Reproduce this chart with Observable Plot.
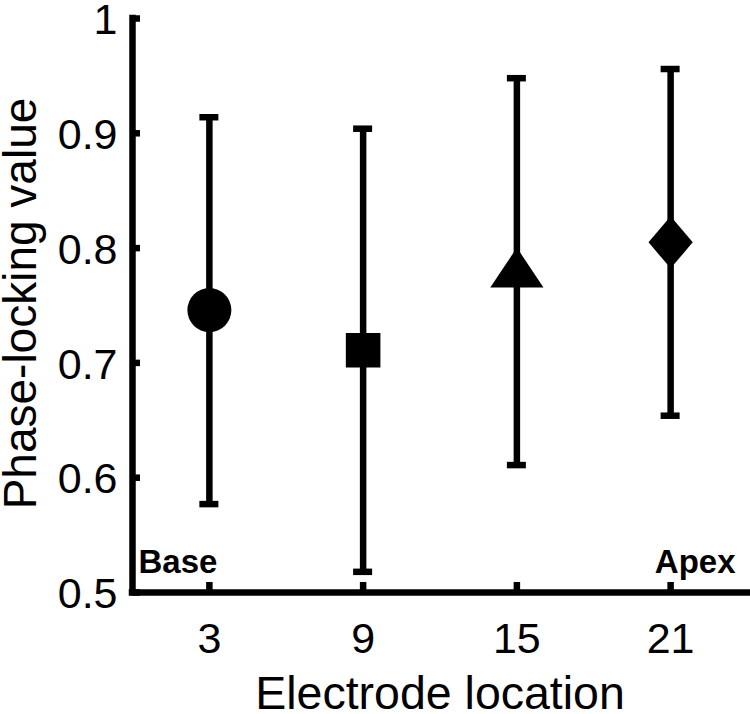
<!DOCTYPE html>
<html>
<head>
<meta charset="utf-8">
<script src="https://cdn.jsdelivr.net/npm/d3@7"></script>
<script src="https://cdn.jsdelivr.net/npm/@observablehq/plot@0.6"></script>
<style>
  html, body { margin: 0; padding: 0; background: #fff; }
  #chart { width: 750px; height: 714px; }
</style>
</head>
<body>
<div id="chart"></div>
<script>
// ---- data ----
const locations = [3, 9, 15, 21];
const meanPLV   = [0.746, 0.711, 0.783, 0.805];
const upperPLV  = [0.914, 0.904, 0.948, 0.956];
const lowerPLV  = [0.577, 0.518, 0.611, 0.654];
const markers   = ["circle", "square", "triangle", "diamond"];
const xTicks    = [3, 9, 15, 21];
const yTicks    = [0.5, 0.6, 0.7, 0.8, 0.9, 1];
const xTitle    = "Electrode location";
const yTitle    = "Phase-locking value";
const baseLabel = "Base";
const apexLabel = "Apex";

// ---- build rows ----
const rows = locations.map((x, i) => ({x, y: meanPLV[i], lo: lowerPLV[i], hi: upperPLV[i], marker: markers[i]}));

// ---- marker styles ----
const triangleSym = {draw(ctx, size) {
  const h = Math.sqrt(size / Math.PI), w = h * 1.33;
  ctx.moveTo(0, -h); ctx.lineTo(w, h); ctx.lineTo(-w, h); ctx.closePath();
}};
const diamondSym = {draw(ctx, size) {
  const h = Math.sqrt(size / Math.PI), w = h * 0.85;
  ctx.moveTo(0, -h); ctx.lineTo(w, 0); ctx.lineTo(0, h); ctx.lineTo(-w, 0); ctx.closePath();
}};
const markerStyle = {
  circle:   {symbol: d3.symbolCircle, r: 22},
  square:   {symbol: d3.symbolSquare, r: 19.5},
  triangle: {symbol: triangleSym, r: 20},
  diamond:  {symbol: diamondSym, r: 26}
};

const LW = 6.5;
const font = "'Liberation Sans', Arial, Helvetica, sans-serif";

const chart = Plot.plot({
  width: 750,
  height: 714,
  marginLeft: 132,
  marginRight: 3,
  marginTop: 18,
  marginBottom: 122,
  style: {fontFamily: font, background: "#fff", color: "#000", overflow: "visible"},
  x: {domain: [0, 24], axis: null},
  y: {domain: [0.5, 1], axis: null},
  marks: [
    // tick labels
    Plot.axisY({ticks: yTicks, tickSize: 0, tickPadding: 15, dy: 2, fontSize: 43, label: null, tickFormat: d => String(d)}),
    Plot.axisX({ticks: xTicks, tickSize: 0, tickPadding: 30, fontSize: 43, label: null, tickFormat: d => String(d)}),
    // inward tick stubs
    Plot.ruleY(yTicks, {y: d => d, x1: 0, x2: 0, insetRight: -8, stroke: "black", strokeWidth: LW}),
    Plot.ruleX(xTicks, {x: d => d, y1: 0.5, y2: 0.5, insetTop: -10, stroke: "black", strokeWidth: LW}),
    // axis lines
    Plot.ruleX([0], {stroke: "black", strokeWidth: LW, strokeLinecap: "square"}),
    Plot.ruleY([0.5], {stroke: "black", strokeWidth: LW, strokeLinecap: "square"}),
    // error bars
    Plot.ruleX(rows, {x: "x", y1: "lo", y2: "hi", stroke: "black", strokeWidth: LW}),
    Plot.ruleY(rows, {y: "hi", x1: "x", x2: "x", insetLeft: -9.5, insetRight: -9.5, stroke: "black", strokeWidth: LW}),
    Plot.ruleY(rows, {y: "lo", x1: "x", x2: "x", insetLeft: -9.5, insetRight: -9.5, stroke: "black", strokeWidth: LW}),
    // markers
    ...rows.map(d => Plot.dot([d], {x: "x", y: "y", symbol: markerStyle[d.marker].symbol, r: markerStyle[d.marker].r, fill: "black", stroke: "none"})),
    // Base / Apex annotations
    Plot.text([baseLabel], {text: d => d, frameAnchor: "bottom-left", textAnchor: "start", lineAnchor: "bottom", dx: 6, dy: -20, fontSize: 33, fontWeight: "bold", fill: "black"}),
    Plot.text([apexLabel], {text: d => d, frameAnchor: "bottom-right", textAnchor: "end", lineAnchor: "bottom", dx: -12, dy: -20, fontSize: 33, fontWeight: "bold", fill: "black"}),
    // axis titles
    Plot.text([xTitle], {text: d => d, frameAnchor: "bottom", textAnchor: "middle", lineAnchor: "middle", dy: 102, fontSize: 46.5, fill: "black"}),
    Plot.text([yTitle], {text: d => d, frameAnchor: "left", textAnchor: "middle", lineAnchor: "middle", rotate: -90, dx: -111, dy: -2, fontSize: 46, fill: "black"})
  ]
});
document.getElementById("chart").appendChild(chart);
</script>
</body>
</html>
